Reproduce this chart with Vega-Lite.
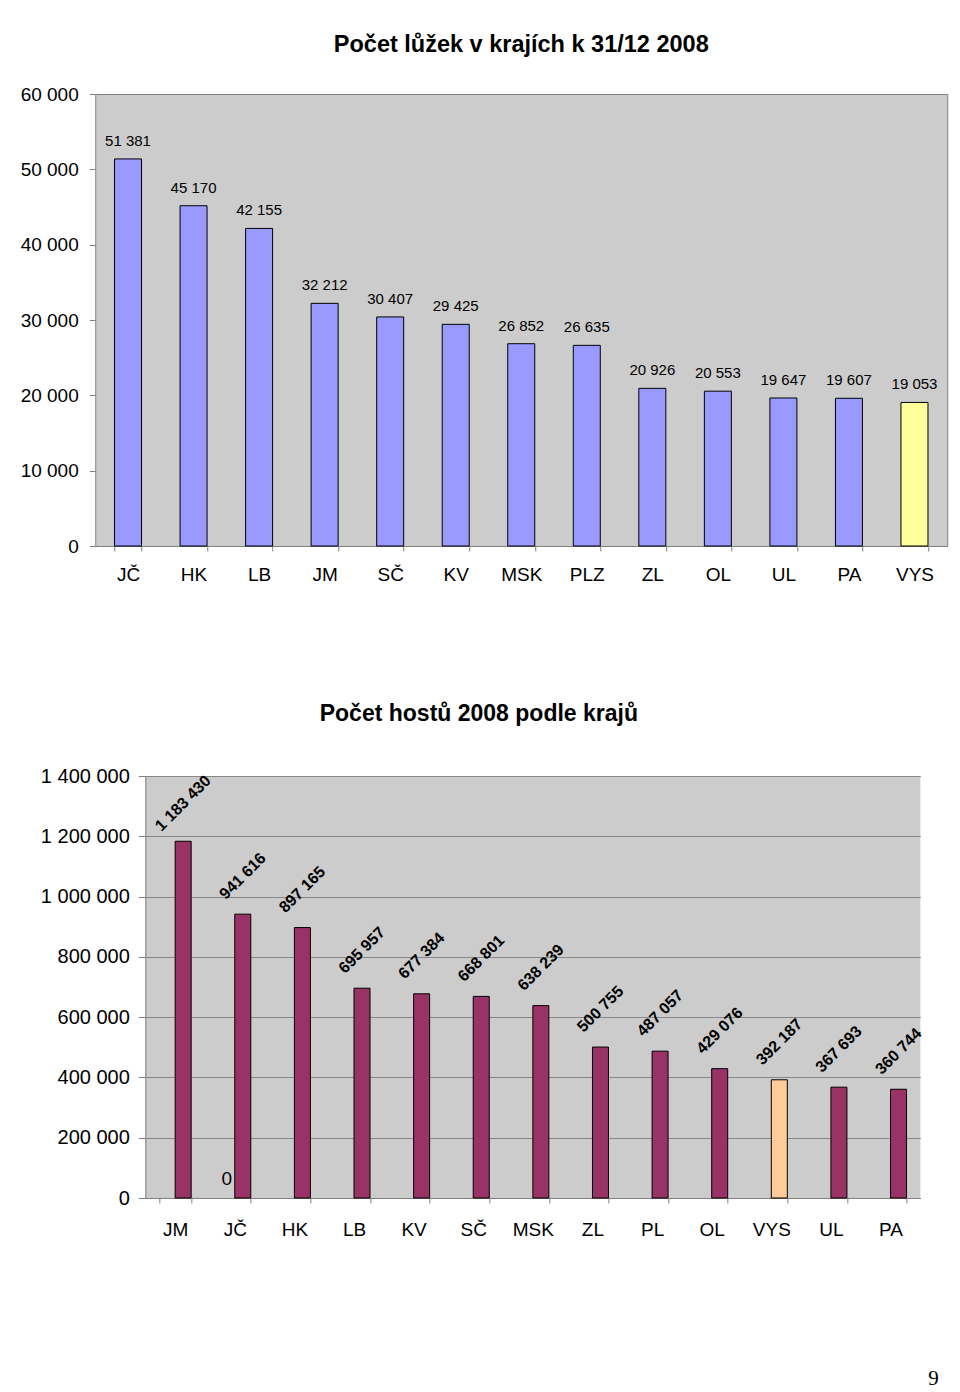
{
  "$schema": "https://vega.github.io/schema/vega-lite/v6.json",
  "background": "white",
  "padding": {"left": 14, "top": 32, "right": 0, "bottom": 0},
  "center": true,
  "spacing": 118,
  "resolve": {"scale": {"color": "independent", "x": "independent", "y": "independent", "xOffset": "independent"}},
  "title": {"text": "9", "orient": "bottom", "anchor": "end", "font": "Liberation Serif", "fontSize": 21, "fontWeight": "normal", "color": "black", "offset": 129, "dx": -36},
  "config": {
    "font": "Liberation Sans",
    "locale": {"number": {"decimal": ",", "thousands": " ", "grouping": [3], "currency": ["", " Kč"]}},
    "axis": {"labelFont": "Liberation Sans", "labelColor": "black", "labelFontSize": 19, "domainColor": "#808080", "tickColor": "#808080", "title": null}
  },
  "vconcat": [
    {
      "width": 852,
      "height": 452,
      "title": {"text": "Počet lůžek v krajích k 31/12 2008", "font": "Liberation Sans", "fontSize": 23.5, "fontWeight": "bold", "color": "black", "anchor": "middle", "frame": "group", "offset": 29},
      "view": {"fill": "#CCCCCC", "stroke": "#808080", "strokeWidth": 1},
      "data": {"values": [
        {"kraj": "JČ", "luzka": 51381, "typ": "a"},
        {"kraj": "HK", "luzka": 45170, "typ": "a"},
        {"kraj": "LB", "luzka": 42155, "typ": "a"},
        {"kraj": "JM", "luzka": 32212, "typ": "a"},
        {"kraj": "SČ", "luzka": 30407, "typ": "a"},
        {"kraj": "KV", "luzka": 29425, "typ": "a"},
        {"kraj": "MSK", "luzka": 26852, "typ": "a"},
        {"kraj": "PLZ", "luzka": 26635, "typ": "a"},
        {"kraj": "ZL", "luzka": 20926, "typ": "a"},
        {"kraj": "OL", "luzka": 20553, "typ": "a"},
        {"kraj": "UL", "luzka": 19647, "typ": "a"},
        {"kraj": "PA", "luzka": 19607, "typ": "a"},
        {"kraj": "VYS", "luzka": 19053, "typ": "b"}
      ]},
      "encoding": {
        "x": {"field": "kraj", "type": "nominal", "sort": null,
              "scale": {"paddingInner": 0.588, "paddingOuter": 0.294},
              "axis": {"labelAngle": 0, "tickBand": "extent", "tickSize": 5, "labelPadding": 14, "domainColor": "#808080"}}
      },
      "resolve": {"axis": {"y": "independent"}},
      "layer": [
        {"mark": {"type": "bar", "stroke": "black", "strokeWidth": 1},
         "encoding": {
           "y": {"field": "luzka", "type": "quantitative",
                 "scale": {"domain": [0, 60000], "nice": false},
                 "axis": {"orient": "left", "values": [0, 10000, 20000, 30000, 40000, 50000, 60000], "format": ",d", "grid": false, "domain": false, "tickSize": 6, "labelPadding": 11, "minExtent": 80}},
           "color": {"field": "typ", "type": "nominal", "scale": {"domain": ["a", "b"], "range": ["#9999FF", "#FFFF99"]}, "legend": null}}},
        {"mark": {"type": "text", "baseline": "middle", "align": "center", "yOffset": -18, "fontSize": 15, "color": "black"},
         "encoding": {
           "y": {"field": "luzka", "type": "quantitative",
                 "scale": {"domain": [0, 60000], "nice": false},
                 "axis": {"orient": "right", "labels": false, "ticks": false, "domain": false, "grid": false, "minExtent": 27, "maxExtent": 27}},
           "text": {"field": "luzka", "type": "quantitative", "format": ",d"}}}
      ]
    },
    {
      "width": 775,
      "height": 422,
      "title": {"text": "Počet hostů 2008 podle krajů", "font": "Liberation Sans", "fontSize": 23, "fontWeight": "bold", "color": "black", "anchor": "middle", "frame": "group", "offset": 40, "dx": -54},
      "view": {"fill": "#CCCCCC", "stroke": null},
      "data": {"values": [
        {"kraj": "JM", "serie": "b", "hoste": 1183430, "typ": "n"},
        {"kraj": "JČ", "serie": "a", "hoste": 0, "typ": "n"},
        {"kraj": "JČ", "serie": "b", "hoste": 941616, "typ": "n"},
        {"kraj": "HK", "serie": "b", "hoste": 897165, "typ": "n"},
        {"kraj": "LB", "serie": "b", "hoste": 695957, "typ": "n"},
        {"kraj": "KV", "serie": "b", "hoste": 677384, "typ": "n"},
        {"kraj": "SČ", "serie": "b", "hoste": 668801, "typ": "n"},
        {"kraj": "MSK", "serie": "b", "hoste": 638239, "typ": "n"},
        {"kraj": "ZL", "serie": "b", "hoste": 500755, "typ": "n"},
        {"kraj": "PL", "serie": "b", "hoste": 487057, "typ": "n"},
        {"kraj": "OL", "serie": "b", "hoste": 429076, "typ": "n"},
        {"kraj": "VYS", "serie": "b", "hoste": 392187, "typ": "v"},
        {"kraj": "UL", "serie": "b", "hoste": 367693, "typ": "n"},
        {"kraj": "PA", "serie": "b", "hoste": 360744, "typ": "n"}
      ]},
      "encoding": {
        "x": {"field": "kraj", "type": "nominal",
              "sort": ["JM", "JČ", "HK", "LB", "KV", "SČ", "MSK", "ZL", "PL", "OL", "VYS", "UL", "PA"],
              "scale": {"paddingInner": 0.463, "paddingOuter": 0.2315},
              "axis": {"labelAngle": 0, "tickBand": "extent", "tickSize": 5, "labelPadding": 17, "domainColor": "#808080"}},
        "xOffset": {"field": "serie", "type": "nominal", "scale": {"domain": ["a", "b"], "paddingInner": 0, "paddingOuter": 0}},
        "y": {"field": "hoste", "type": "quantitative",
              "scale": {"domain": [0, 1400000], "nice": false},
              "axis": {"values": [0, 200000, 400000, 600000, 800000, 1000000, 1200000, 1400000], "format": ",d", "grid": true, "gridColor": "#888888", "gridWidth": 1, "domain": true, "tickSize": 7, "labelPadding": 9, "labelFontSize": 20}}
      },
      "layer": [
        {"transform": [{"filter": "datum.serie == 'b'"}],
         "mark": {"type": "bar", "stroke": "black", "strokeWidth": 1},
         "encoding": {"color": {"field": "typ", "type": "nominal", "scale": {"domain": ["n", "v"], "range": ["#993366", "#FFCC99"]}, "legend": null}}},
        {"transform": [{"filter": "datum.serie == 'b'"}],
         "mark": {"type": "text", "angle": 315, "align": "center", "baseline": "middle", "yOffset": -38, "fontSize": 16, "fontWeight": "bold", "color": "black"},
         "encoding": {"text": {"field": "hoste", "type": "quantitative", "format": ",d"}}},
        {"transform": [{"filter": "datum.serie == 'a'"}],
         "mark": {"type": "text", "align": "center", "baseline": "middle", "yOffset": -19, "fontSize": 19, "color": "black"},
         "encoding": {"text": {"field": "hoste", "type": "quantitative", "format": ",d"}}}
      ]
    }
  ]
}
